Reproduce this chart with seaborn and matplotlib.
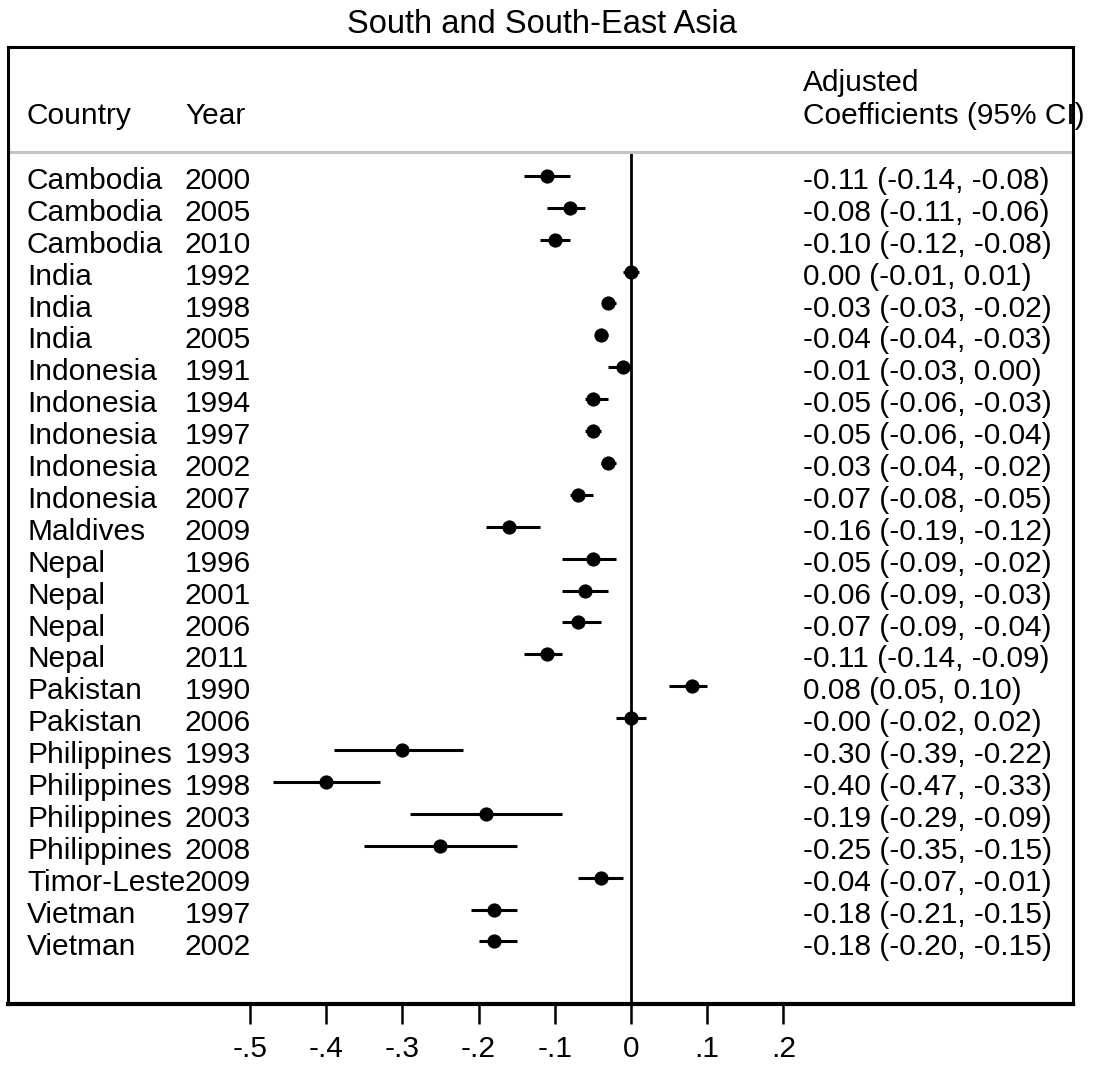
import numpy as np
import pandas as pd
import matplotlib
matplotlib.use("Agg")
import matplotlib.pyplot as plt
import seaborn as sns

# Survey-level adjusted coefficients with 95% confidence intervals
countries = ["Cambodia", "Cambodia", "Cambodia", "India", "India", "India",
             "Indonesia", "Indonesia", "Indonesia", "Indonesia", "Indonesia",
             "Maldives", "Nepal", "Nepal", "Nepal", "Nepal", "Pakistan", "Pakistan",
             "Philippines", "Philippines", "Philippines", "Philippines",
             "Timor-Leste", "Vietman", "Vietman"]
years = ["2000", "2005", "2010", "1992", "1998", "2005",
         "1991", "1994", "1997", "2002", "2007",
         "2009", "1996", "2001", "2006", "2011", "1990", "2006",
         "1993", "1998", "2003", "2008",
         "2009", "1997", "2002"]
estimates = [-0.11, -0.08, -0.10, 0.00, -0.03, -0.04,
             -0.01, -0.05, -0.05, -0.03, -0.07,
             -0.16, -0.05, -0.06, -0.07, -0.11, 0.08, -0.0,
             -0.30, -0.40, -0.19, -0.25,
             -0.04, -0.18, -0.18]
ci_low = [-0.14, -0.11, -0.12, -0.01, -0.03, -0.04,
          -0.03, -0.06, -0.06, -0.04, -0.08,
          -0.19, -0.09, -0.09, -0.09, -0.14, 0.05, -0.02,
          -0.39, -0.47, -0.29, -0.35,
          -0.07, -0.21, -0.20]
ci_high = [-0.08, -0.06, -0.08, 0.01, -0.02, -0.03,
           0.00, -0.03, -0.04, -0.02, -0.05,
           -0.12, -0.02, -0.03, -0.04, -0.09, 0.10, 0.02,
           -0.22, -0.33, -0.09, -0.15,
           -0.01, -0.15, -0.15]
tick_values = [-0.5, -0.4, -0.3, -0.2, -0.1, 0.0, 0.1, 0.2]
tick_labels = ["-.5", "-.4", "-.3", "-.2", "-.1", "0", ".1", ".2"]

df = pd.DataFrame({"country": countries, "year": years, "est": estimates,
                   "lo": ci_low, "hi": ci_high})
df["row"] = np.arange(len(df))

sns.set_style("white")
plt.rcParams["font.family"] = ["Liberation Sans", "DejaVu Sans"]
plt.rcParams["text.color"] = "black"
plt.rcParams["xtick.color"] = "black"
plt.rcParams["xtick.labelcolor"] = "black"
FS = 21.5

fig = plt.figure(figsize=(10.95, 10.65), dpi=100)
ax = fig.add_axes([8 / 1095, 1 - 1004 / 1065, 1065 / 1095, (1004 - 47) / 1065])

# Confidence interval whiskers and point estimates
ax.hlines(df["row"], df["lo"], df["hi"], color="black", lw=2.2, zorder=3)
sns.scatterplot(data=df, x="est", y="row", ax=ax, color="black", s=105,
                linewidth=0, marker="o", zorder=4, legend=False)

top_row, bottom_row = -4.04, 25.96
header_line = -0.75
ax.set_xlim(-0.8176, 0.5801)
ax.set_ylim(bottom_row, top_row)

# Reference line at zero and header separator
ax.vlines(0, header_line, bottom_row, color="black", lw=2.0, zorder=2)
ax.axhline(header_line, color="#c4c4c4", lw=2.2, zorder=2)

# Table columns
tr = ax.get_yaxis_transform()
x_country, x_year, x_coef = 19 / 1065, 177 / 1065, 795 / 1065
base_off = 0.41
for _, r in df.iterrows():
    y = r["row"] + base_off
    ax.text(x_country, y, r["country"], transform=tr, fontsize=FS, va="baseline",
            ha="left", color="black")
    ax.text(x_year, y, r["year"], transform=tr, fontsize=FS, va="baseline",
            ha="left", color="black")
    ax.text(x_coef, y, f"{r['est']:.2f} ({r['lo']:.2f}, {r['hi']:.2f})",
            transform=tr, fontsize=FS, va="baseline", ha="left", color="black")

ax.text(x_country, -1.63, "Country", transform=tr, fontsize=FS, va="baseline",
        ha="left", color="black")
ax.text(x_year, -1.63, "Year", transform=tr, fontsize=FS, va="baseline",
        ha="left", color="black")
ax.text(x_coef, -2.66, "Adjusted", transform=tr, fontsize=FS, va="baseline",
        ha="left", color="black")
ax.text(x_coef, -1.63, "Coefficients (95% CI)", transform=tr, fontsize=FS,
        va="baseline", ha="left", clip_on=False, color="black")

# Axes styling
ax.set_xticks(tick_values)
ax.set_xticklabels(tick_labels, fontsize=FS, color="black")
ax.set_yticks([])
ax.set_xlabel("")
ax.set_ylabel("")
ax.tick_params(axis="x", direction="out", length=14.5, width=1.8, pad=8,
               bottom=True, colors="black")
for side in ["left", "right", "top"]:
    ax.spines[side].set_linewidth(2.2)
    ax.spines[side].set_color("black")
ax.spines["bottom"].set_linewidth(3.0)
ax.spines["bottom"].set_color("black")

fig.text(542 / 1095, 1 - 33 / 1065, "South and South-East Asia", fontsize=23.5,
         ha="center", va="baseline", color="black")

fig.savefig("out.png", dpi=100, facecolor="white")
